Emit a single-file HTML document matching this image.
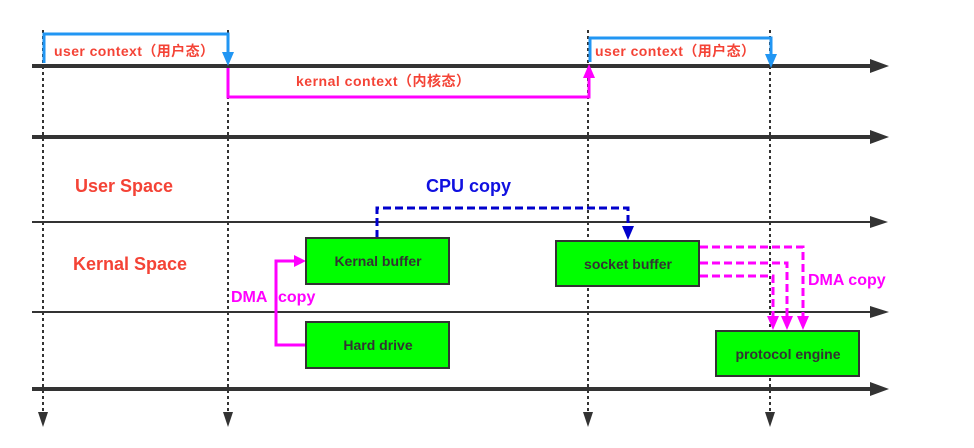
<!DOCTYPE html>
<html><head><style>body{margin:0;background:#fff}svg{display:block}</style></head><body>
<svg width="974" height="448" xmlns="http://www.w3.org/2000/svg" font-family="Liberation Sans, Noto Sans CJK SC, sans-serif" font-weight="bold">
<g fill="#333">
<rect x="32" y="64" width="840" height="4"/><path d="M870,59L889,66L870,73z"/>
<rect x="32" y="135" width="840" height="4"/><path d="M870,130L889,137L870,144z"/>
<rect x="32" y="221" width="840" height="2"/><path d="M870,216L888,222L870,228z"/>
<rect x="32" y="311" width="840" height="2"/><path d="M870,306L889,312L870,318z"/>
<rect x="32" y="387" width="840" height="4"/><path d="M870,382L889,389L870,396z"/>
</g>
<g stroke="#333" stroke-width="2" stroke-dasharray="3,3">
<line x1="43" y1="30" x2="43" y2="418"/><line x1="228" y1="30" x2="228" y2="418"/>
<line x1="588" y1="30" x2="588" y2="418"/><line x1="770" y1="30" x2="770" y2="418"/>
</g>
<g fill="#333">
<path d="M38,412L48,412L43,427z"/><path d="M223,412L233,412L228,427z"/>
<path d="M583,412L593,412L588,427z"/><path d="M765,412L775,412L770,427z"/>
</g>
<g fill="none" stroke="#2196f3" stroke-width="3">
<path d="M44,63V34H228V52"/><path d="M590,62V38H771V54"/>
</g>
<path d="M222,52L234,52L228,66z" fill="#2196f3"/><path d="M765,54L777,54L771,68z" fill="#2196f3"/>
<path d="M228,68V97H589V76" fill="none" stroke="#f0f" stroke-width="3"/>
<path d="M583,78L595,78L589,64z" fill="#f0f"/>
<g fill="#f44336" font-size="14">
<text x="54" y="56" textLength="160">user context（用户态）</text>
<text x="595" y="56" textLength="160">user context（用户态）</text>
<text x="296" y="86" textLength="174">kernal context（内核态）</text>
</g>
<g fill="#f44336" font-size="18">
<text x="75" y="192">User Space</text><text x="73" y="270">Kernal Space</text>
</g>
<text x="426" y="192" fill="#1010e0" font-size="18">CPU copy</text>
<path d="M377,238V208H628V228" fill="none" stroke="#00c" stroke-width="3" stroke-dasharray="8,4"/>
<path d="M622,226L634,226L628,240z" fill="#00c"/>
<path d="M306,345H276V261H294" fill="none" stroke="#f0f" stroke-width="3"/>
<path d="M294,255L306,261L294,267z" fill="#f0f"/>
<text x="231" y="302" fill="#f0f" font-size="16">DMA</text><text x="278" y="302" fill="#f0f" font-size="16">copy</text>
<text x="808" y="285" fill="#f0f" font-size="16">DMA copy</text>
<g fill="none" stroke="#f0f" stroke-width="3" stroke-dasharray="8,4">
<path d="M700,247H803V318"/><path d="M700,263H787V318"/><path d="M700,276H773V318"/>
</g>
<g fill="#f0f"><path d="M767,316L779,316L773,330z"/><path d="M781,316L793,316L787,330z"/><path d="M797,316L809,316L803,330z"/></g>
<g fill="#00ff00" stroke="#333" stroke-width="2">
<rect x="306" y="238" width="143" height="46"/><rect x="306" y="322" width="143" height="46"/>
<rect x="556" y="241" width="143" height="45"/><rect x="716" y="331" width="143" height="45"/>
</g>
<g fill="#333" font-size="14" text-anchor="middle">
<text x="378" y="266">Kernal buffer</text><text x="378" y="350">Hard drive</text>
<text x="628" y="269">socket buffer</text><text x="788" y="359">protocol engine</text>
</g>
</svg>
</body></html>
